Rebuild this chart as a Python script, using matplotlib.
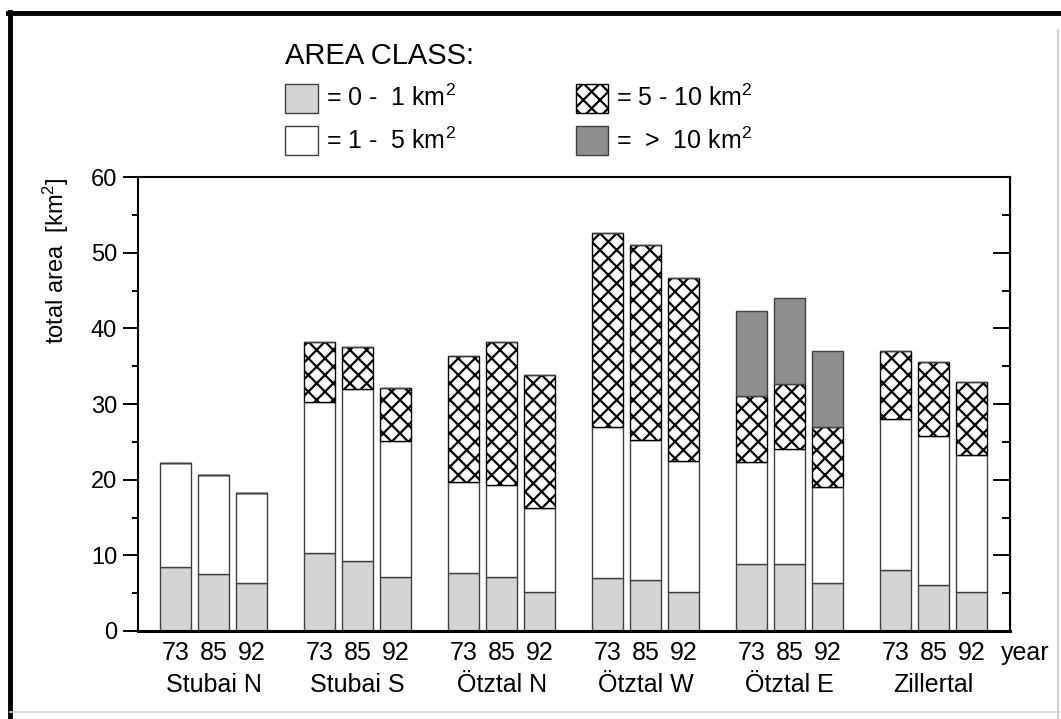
import matplotlib.pyplot as plt
from matplotlib.lines import Line2D

plt.rcParams['font.family'] = ['Liberation Sans', 'DejaVu Sans']
plt.rcParams['mathtext.fontset'] = 'custom'
plt.rcParams['mathtext.rm'] = 'Liberation Sans'
plt.rcParams['mathtext.it'] = 'Liberation Sans'
plt.rcParams['hatch.linewidth'] = 1.6

# glacier regions and survey years
regions = ['Stubai N', 'Stubai S', 'Ötztal N', 'Ötztal W', 'Ötztal E', 'Zillertal']
years = ['73', '85', '92']

# total area per size class [km2], one value per region/year (73, 85, 92)
area_0_1 = [8.4, 7.5, 6.4, 10.3, 9.3, 7.2, 7.7, 7.1, 5.1,
            7.0, 6.7, 5.1, 8.8, 8.9, 6.4, 8.1, 6.1, 5.1]
area_1_5 = [13.8, 13.1, 11.9, 19.9, 22.7, 17.9, 12.0, 12.2, 11.1,
            19.9, 18.6, 17.4, 13.6, 15.1, 12.6, 19.9, 19.7, 18.1]
area_5_10 = [0, 0, 0, 8.0, 5.6, 7.0, 16.7, 18.9, 17.6,
             25.7, 25.7, 24.2, 8.7, 8.6, 8.0, 9.0, 9.8, 9.7]
area_gt_10 = [0, 0, 0, 0, 0, 0, 0, 0, 0,
              0, 0, 0, 11.2, 11.4, 10.0, 0, 0, 0]

class_labels = [r'= 0 -  1 km$^{2}$', r'= 1 -  5 km$^{2}$',
                r'= 5 - 10 km$^{2}$', r'=  >  10 km$^{2}$']

# bar positions: groups of three, wider gap between regions
group_step = 3.79
xpos = [g * group_step + j for g in range(len(regions)) for j in range(len(years))]
centers = [g * group_step + 1 for g in range(len(regions))]

fig = plt.figure(figsize=(10.61, 7.19), dpi=100)
ax = fig.add_axes([0.130, 0.1224, 0.822, 0.6314])

w = 0.82
ec = '#404040'
bottom = [0] * len(xpos)
b1 = ax.bar(xpos, area_0_1, w, bottom=bottom, color='#d4d4d4', edgecolor=ec, linewidth=1)
bottom = [b + v for b, v in zip(bottom, area_0_1)]
b2 = ax.bar(xpos, area_1_5, w, bottom=bottom, color='white', edgecolor=ec, linewidth=1)
bottom = [b + v for b, v in zip(bottom, area_1_5)]
b3 = ax.bar(xpos, area_5_10, w, bottom=bottom, color='white', edgecolor='black',
            linewidth=1, hatch='xx')
bottom = [b + v for b, v in zip(bottom, area_5_10)]
b4 = ax.bar(xpos, area_gt_10, w, bottom=bottom, color='#8e8e8e', edgecolor=ec, linewidth=1)

ax.set_xlim(-0.99, 21.96)
ax.set_ylim(0, 60)
ax.set_yticks(range(0, 61, 10))
ax.set_yticks(range(5, 60, 10), minor=True)
ax.tick_params(axis='y', which='major', length=11, width=1.4, direction='out',
               labelsize=17, pad=4)
ax.tick_params(axis='y', which='minor', length=4.5, width=1.4, direction='out')

ax.set_xticks(xpos, years * len(regions))
ax.tick_params(axis='x', length=0, labelsize=18, pad=7)

for s in ax.spines.values():
    s.set_linewidth(1.5)
ax.spines['bottom'].set_linewidth(2.2)

# inward ticks on the right side
ax2 = ax.secondary_yaxis('right')
ax2.set_yticks(range(0, 61, 10))
ax2.set_yticks(range(5, 60, 10), minor=True)
ax2.tick_params(which='major', direction='in', length=12, width=1.4, labelright=False)
ax2.tick_params(which='minor', direction='in', length=6, width=1.4)

ax.set_ylabel(r'total area  [km$^{2}$]', fontsize=17, loc='top', labelpad=14)

for c, name in zip(centers, regions):
    ax.annotate(name, xy=(c, 0), xycoords=('data', 'axes fraction'),
                xytext=(0, -30.5), textcoords='offset points',
                ha='center', va='top', fontsize=18)
ax.annotate('year', xy=(0.99, 0), xycoords='axes fraction',
            xytext=(0, -7), textcoords='offset points',
            ha='left', va='top', fontsize=18)

leg = fig.legend([b1, b2, b3, b4], class_labels, ncol=2, frameon=False,
                 loc='upper left', bbox_to_anchor=(285 / 1061, 1 - 42 / 719),
                 title='AREA CLASS:', title_fontsize=21, fontsize=18,
                 handlelength=1.3, handleheight=1.4, handletextpad=0.33,
                 labelspacing=0.55, columnspacing=4.8, borderpad=0,
                 borderaxespad=0, alignment='left')

# page frame around the figure
fig.add_artist(Line2D([10 / 1061, 10 / 1061], [0, 1 - 12 / 719], color='black',
                      lw=3.5, transform=fig.transFigure))
fig.add_artist(Line2D([8 / 1061, 1], [1 - 13 / 719, 1 - 13 / 719], color='black',
                      lw=3.5, transform=fig.transFigure))
fig.add_artist(Line2D([1058 / 1061, 1058 / 1061], [0, 1 - 30 / 719], color='#c8c8c8',
                      lw=1.2, transform=fig.transFigure))
fig.add_artist(Line2D([10 / 1061, 1], [1 - 712 / 719, 1 - 712 / 719], color='#d8d8d8',
                      lw=1.2, transform=fig.transFigure))

fig.savefig('out.png', dpi=100)
